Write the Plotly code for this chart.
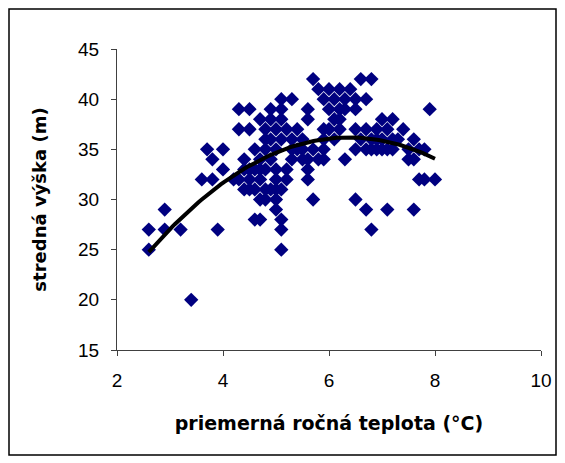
import numpy as np
import plotly.graph_objects as go

# mean annual temperature (°C) and mean height (m)
temp = [
    5.7, 6.6, 6.8,
    5.8, 6.0, 6.2, 6.4,
    5.1, 5.3, 5.9, 6.1, 6.3, 6.5, 6.7,
    4.3, 4.5, 4.9, 5.1, 5.6, 6.0, 6.2, 6.3, 6.5, 7.9,
    4.7, 4.9, 5.1, 5.6, 6.1, 6.2, 7.0, 7.2,
    4.3, 4.5, 4.8, 5.0, 5.2, 5.4, 5.9, 6.0, 6.2, 6.5, 6.7, 6.9, 7.1, 7.4,
    4.8, 4.9, 5.1, 5.3, 5.5, 5.9, 6.1, 6.6, 6.8, 6.9, 7.0, 7.2, 7.3, 7.6,
    3.7, 4.0, 4.6, 4.8, 5.0, 5.3, 5.4, 5.5, 5.7, 5.9, 6.5, 6.7, 6.8, 6.9, 7.0, 7.1, 7.2, 7.5, 7.7, 7.8,
    3.8, 4.4, 4.7, 4.9, 5.3, 5.5, 5.6, 5.8, 5.9, 6.3, 7.5, 7.6,
    4.0, 4.4, 4.5, 4.6, 4.7, 4.8, 5.0, 5.2, 5.6,
    3.6, 3.8, 4.2, 4.3, 4.5, 4.7, 5.0, 5.2, 5.6, 7.7, 7.8, 8.0,
    4.4, 4.5, 4.6, 4.8, 4.9, 5.0, 5.1,
    4.7, 4.8, 5.0, 5.7, 6.5,
    2.9, 5.0, 6.7, 7.1, 7.6,
    4.6, 4.7, 5.1,
    2.6, 2.9, 3.2, 3.9, 5.1, 6.8,
    2.6, 5.1,
    3.4,
]
height = [
    42, 42, 42,
    41, 41, 41, 41,
    40, 40, 40, 40, 40, 40, 40,
    39, 39, 39, 39, 39, 39, 39, 39, 39, 39,
    38, 38, 38, 38, 38, 38, 38, 38,
    37, 37, 37, 37, 37, 37, 37, 37, 37, 37, 37, 37, 37, 37,
    36, 36, 36, 36, 36, 36, 36, 36, 36, 36, 36, 36, 36, 36,
    35, 35, 35, 35, 35, 35, 35, 35, 35, 35, 35, 35, 35, 35, 35, 35, 35, 35, 35, 35,
    34, 34, 34, 34, 34, 34, 34, 34, 34, 34, 34, 34,
    33, 33, 33, 33, 33, 33, 33, 33, 33,
    32, 32, 32, 32, 32, 32, 32, 32, 32, 32, 32, 32,
    31, 31, 31, 31, 31, 31, 31,
    30, 30, 30, 30, 30,
    29, 29, 29, 29, 29,
    28, 28, 28,
    27, 27, 27, 27, 27, 27,
    25, 25,
    20,
]

x_ticks = [2, 4, 6, 8, 10]
y_ticks = [15, 20, 25, 30, 35, 40, 45]

# 2nd-order polynomial trendline fitted to the data
coef = np.polyfit(temp, height, 2)
xt = np.linspace(min(temp), max(temp), 100)
yt = np.polyval(coef, xt)

fig = go.Figure()
fig.add_trace(go.Scatter(
    x=temp, y=height, mode="markers",
    marker=dict(symbol="diamond", size=11, color="#000080", line=dict(width=0)),
    showlegend=False, hoverinfo="x+y",
))
fig.add_trace(go.Scatter(
    x=xt, y=yt, mode="lines", line=dict(color="black", width=4),
    showlegend=False, hoverinfo="skip",
))

axis_common = dict(
    showgrid=False, zeroline=False, showline=True, linecolor="#404040", linewidth=1,
    ticks="outside", ticklen=5, tickcolor="#404040", tickwidth=1,
    tickfont=dict(family="Liberation Sans, Arial, sans-serif", size=19, color="black"),
)
fig.update_xaxes(range=[2, 10], tickvals=x_ticks, ticklabelstandoff=8,
                 title=dict(text="priemerná ročná teplota (°C)", standoff=26,
                            font=dict(family="DejaVu Sans, sans-serif", size=19, color="black", weight="bold")),
                 **axis_common)
fig.update_yaxes(range=[15, 45], tickvals=y_ticks, ticklabelstandoff=8,
                 title=dict(text="stredná výška (m)", standoff=26,
                            font=dict(family="DejaVu Sans, sans-serif", size=18, color="black", weight="bold")),
                 **axis_common)

L, R, T, B = 117, 24, 49, 113
W, H = 565, 463
pw, ph = W - L - R, H - T - B
fig.add_shape(type="rect", xref="paper", yref="paper",
              x0=(9 - L) / pw, x1=(556 - L) / pw,
              y0=(H - B - 455) / ph, y1=(H - B - 9) / ph,
              line=dict(color="black", width=1.5), fillcolor="rgba(0,0,0,0)", layer="below")

fig.update_layout(
    width=W, height=H, margin=dict(l=L, r=R, t=T, b=B),
    paper_bgcolor="white", plot_bgcolor="white",
)
fig.write_html("out.html", config={"displayModeBar": False},
               post_script="document.body.style.margin='0';")
